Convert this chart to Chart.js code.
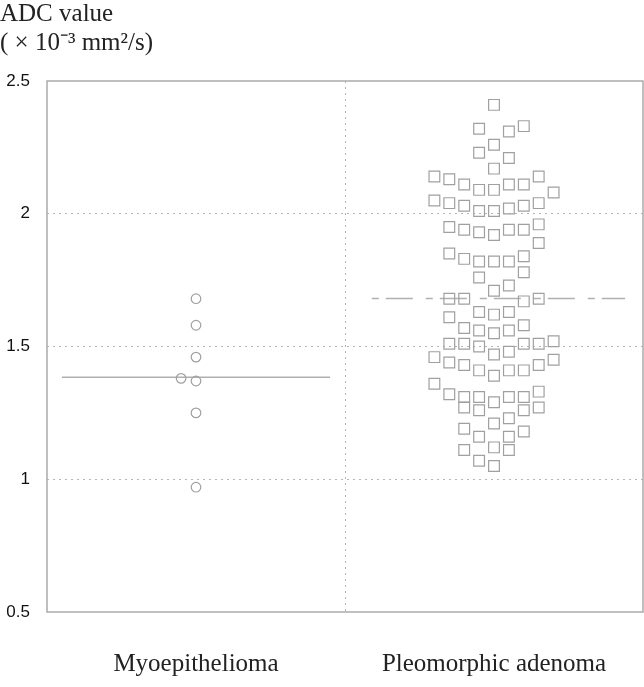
<html>
<head>
    <script src="https://cdn.jsdelivr.net/npm/chart.js@4.4.1/dist/chart.umd.min.js"></script>
    <style>
        html, body { margin: 0; padding: 0; background: #fff; }
        .frame { width: 644px; height: 687px; }
    </style>
</head>
<body>
    <div class="frame">
        <canvas id="canvas" width="644" height="687"></canvas>
    </div>
    <script>
        // categories and y ticks
        var categories = ['Myoepithelioma', 'Pleomorphic adenoma'];
        var yTickValues = [0.5, 1, 1.5, 2, 2.5];
        var yTickLabels = ['0.5', '1', '1.5', '2', '2.5'];
        var titleLines = ['ADC value', '( \u00d7 10\u207b\u00b3 mm\u00b2/s)'];

        // Myoepithelioma (circles)
        var myoX = [0.5, 0.5, 0.5, 0.45, 0.5, 0.5, 0.5];
        var myoValues = [1.68, 1.58, 1.46, 1.38, 1.37, 1.25, 0.97];

        // Pleomorphic adenoma (squares)
        var adenomaX = [
            1.50,
            1.45, 1.55, 1.60,
            1.50, 1.45, 1.55, 1.50,
            1.30, 1.35, 1.40, 1.45, 1.50, 1.55, 1.60, 1.65,
            1.70,
            1.30, 1.35, 1.40, 1.45, 1.50, 1.55, 1.60, 1.65,
            1.35, 1.40, 1.45, 1.50, 1.55, 1.60, 1.65,
            1.65,
            1.35, 1.40, 1.45, 1.50, 1.55, 1.60,
            1.60, 1.45, 1.55, 1.50,
            1.35, 1.40, 1.60, 1.65,
            1.45, 1.50, 1.55,
            1.35,
            1.40, 1.45, 1.50, 1.55, 1.60,
            1.35, 1.40, 1.45, 1.60, 1.65, 1.70,
            1.30, 1.50, 1.55,
            1.35, 1.70,
            1.40, 1.45, 1.50, 1.55, 1.60, 1.65,
            1.30, 1.35,
            1.40, 1.45, 1.55, 1.60, 1.65,
            1.50,
            1.40, 1.45, 1.60, 1.65,
            1.55, 1.50, 1.40, 1.60,
            1.45, 1.55,
            1.50,
            1.40, 1.55,
            1.45, 1.50
        ];
        var adenomaValues = [
            2.41,
            2.32, 2.31, 2.33,
            2.26, 2.23, 2.21, 2.17,
            2.14, 2.13, 2.11, 2.09, 2.09, 2.11, 2.11, 2.14,
            2.08,
            2.05, 2.04, 2.03, 2.01, 2.01, 2.02, 2.03, 2.04,
            1.95, 1.94, 1.93, 1.92, 1.94, 1.94, 1.96,
            1.89,
            1.85, 1.83, 1.82, 1.82, 1.82, 1.84,
            1.78, 1.76, 1.73, 1.71,
            1.68, 1.68, 1.67, 1.68,
            1.63, 1.62, 1.63,
            1.61,
            1.57, 1.56, 1.55, 1.56, 1.58,
            1.51, 1.51, 1.50, 1.51, 1.51, 1.52,
            1.46, 1.47, 1.48,
            1.44, 1.45,
            1.43, 1.41, 1.39, 1.41, 1.41, 1.43,
            1.36, 1.32,
            1.31, 1.31, 1.31, 1.31, 1.33,
            1.29,
            1.27, 1.26, 1.26, 1.27,
            1.23, 1.21, 1.19, 1.18,
            1.16, 1.16,
            1.12,
            1.11, 1.11,
            1.07, 1.05
        ];

        // mean lines
        var meanValues = [1.384, 1.681];
        var meanFrom = [0.05, 1.09];
        var meanTo = [0.95, 1.94];

        function toPoints(xs, ys) {
            return ys.map(function(v, i) { return { x: xs[i], y: v }; });
        }

        var markColor = '#a0a0a0';
        var frameColor = '#aaaaaa';
        var gridColor = '#b4b4b4';
        var serif = '"Liberation Serif", "Times New Roman", serif';

        var framePlugin = {
            id: 'frame',
            afterDatasetsDraw: function(chart) {
                var a = chart.chartArea;
                var c = chart.ctx;
                c.save();
                c.strokeStyle = frameColor;
                c.lineWidth = 1.5;
                c.strokeRect(a.left, a.top, a.right - a.left, a.bottom - a.top);
                c.restore();
            }
        };

        var ctx = document.getElementById('canvas').getContext('2d');
        var chart = new Chart(ctx, {
            type: 'scatter',
            data: {
                datasets: [{
                    label: categories[0],
                    data: toPoints(myoX, myoValues),
                    pointStyle: 'circle',
                    pointRadius: 4.8,
                    borderColor: markColor,
                    backgroundColor: 'rgba(0,0,0,0)',
                    borderWidth: 1.2
                }, {
                    label: categories[1],
                    data: toPoints(adenomaX, adenomaValues),
                    pointStyle: 'rect',
                    pointRadius: 7.6,
                    borderColor: markColor,
                    backgroundColor: 'rgba(0,0,0,0)',
                    borderWidth: 1.2
                }, {
                    label: 'mean ' + categories[0],
                    data: [{ x: meanFrom[0], y: meanValues[0] }, { x: meanTo[0], y: meanValues[0] }],
                    showLine: true,
                    pointRadius: 0,
                    borderColor: '#b0b0b0',
                    borderWidth: 1.6
                }, {
                    label: 'mean ' + categories[1],
                    data: [{ x: meanFrom[1], y: meanValues[1] }, { x: meanTo[1], y: meanValues[1] }],
                    showLine: true,
                    pointRadius: 0,
                    borderColor: '#b0b0b0',
                    borderWidth: 1.6,
                    borderDash: [7, 7, 27, 13]
                }]
            },
            options: {
                responsive: false,
                animation: false,
                layout: { autoPadding: false, padding: { left: 0, right: 1, top: 0, bottom: 0 } },
                plugins: {
                    legend: { display: false },
                    tooltip: { enabled: false },
                    title: {
                        display: true,
                        text: titleLines,
                        align: 'start',
                        color: '#222',
                        font: { family: serif, size: 25, weight: 'normal', lineHeight: 1.16 },
                        padding: { top: 0, bottom: 23 }
                    }
                },
                scales: {
                    x: {
                        type: 'linear',
                        min: 0,
                        max: 2,
                        afterBuildTicks: function(axis) {
                            axis.ticks = [0.5, 1, 1.5].map(function(v) { return { value: v }; });
                        },
                        afterFit: function(axis) {
                            axis.height = 75;
                            axis.paddingLeft = 0;
                            axis.paddingRight = 0;
                        },
                        grid: {
                            drawTicks: false,
                            color: function(c) { return c.tick && c.tick.value === 1 ? gridColor : 'rgba(0,0,0,0)'; },
                            lineWidth: 1
                        },
                        border: { display: false, dash: [2, 4] },
                        ticks: {
                            autoSkip: false,
                            maxRotation: 0,
                            padding: 37,
                            color: '#222',
                            font: { family: serif, size: 25 },
                            callback: function(v) {
                                if (v === 0.5) return categories[0];
                                if (v === 1.5) return categories[1];
                                return '';
                            }
                        }
                    },
                    y: {
                        min: 0.5,
                        max: 2.5,
                        afterBuildTicks: function(axis) {
                            axis.ticks = yTickValues.map(function(v) { return { value: v }; });
                        },
                        afterFit: function(axis) { axis.width = 47; },
                        border: { display: false, dash: [2, 4] },
                        grid: {
                            drawTicks: false,
                            color: function(c) {
                                var v = c.tick && c.tick.value;
                                return (v === 1 || v === 1.5 || v === 2) ? gridColor : 'rgba(0,0,0,0)';
                            },
                            lineWidth: 1
                        },
                        ticks: {
                            padding: 17,
                            color: '#111',
                            font: { family: '"Liberation Sans", Arial, sans-serif', size: 17 },
                            callback: function(v) {
                                var i = yTickValues.indexOf(v);
                                return i >= 0 ? yTickLabels[i] : '';
                            }
                        }
                    }
                }
            },
            plugins: [framePlugin]
        });
    </script>
</body>
</html>
